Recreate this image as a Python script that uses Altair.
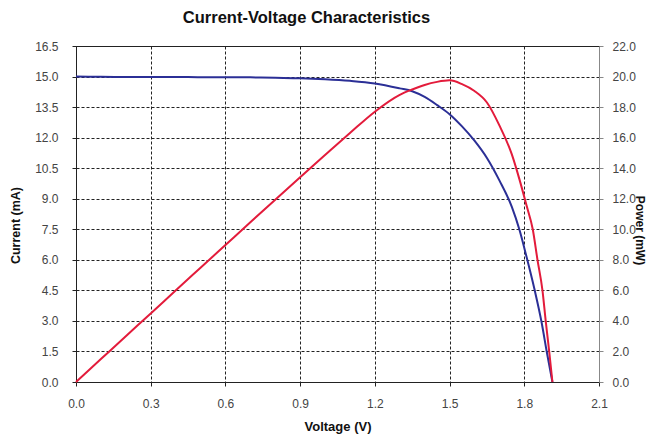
import altair as alt
import pandas as pd

# Current curve (blue)
voltage_i = [0.0, 0.1, 0.2, 0.3, 0.4, 0.5, 0.6, 0.7, 0.8, 0.9, 1.0, 1.1, 1.2,
             1.3, 1.35, 1.4, 1.45, 1.5, 1.55, 1.6, 1.65, 1.7, 1.75, 1.78,
             1.81, 1.84, 1.87, 1.89, 1.913]
current = [15.0, 14.99, 14.98, 14.98, 14.98, 14.97, 14.97, 14.96, 14.94, 14.92,
           14.87, 14.79, 14.66, 14.42, 14.28, 14.0, 13.6, 13.15, 12.55, 11.85,
           11.0, 9.9, 8.6, 7.5, 6.1, 4.6, 2.9, 1.5, 0.0]

# Power curve (red)
voltage_p = [0.0, 0.1, 0.2, 0.3, 0.4, 0.5, 0.6, 0.7, 0.8, 0.9, 1.0, 1.1, 1.2,
             1.3, 1.35, 1.4, 1.45, 1.5, 1.55, 1.6, 1.65, 1.7, 1.75, 1.78,
             1.81, 1.834, 1.853, 1.873, 1.886, 1.9, 1.913]
power = [0.0, 1.5, 3.0, 4.49, 5.99, 7.48, 8.97, 10.46, 11.94, 13.41, 14.86,
         16.3, 17.7, 18.8, 19.15, 19.45, 19.65, 19.75, 19.5, 19.05, 18.3, 16.8,
         14.9, 13.3, 11.5, 10.0, 8.0, 6.0, 4.0, 2.0, 0.0]

x_ticks = [0.0, 0.3, 0.6, 0.9, 1.2, 1.5, 1.8, 2.1]
i_ticks = [0.0, 1.5, 3.0, 4.5, 6.0, 7.5, 9.0, 10.5, 12.0, 13.5, 15.0, 16.5]
p_ticks = [0.0, 2.0, 4.0, 6.0, 8.0, 10.0, 12.0, 14.0, 16.0, 18.0, 20.0, 22.0]

df_i = pd.DataFrame({"Voltage": voltage_i, "Current": current})
df_p = pd.DataFrame({"Voltage": voltage_p, "Power": power})

FONT = "Liberation Sans"

x_enc = alt.X(
    "Voltage:Q",
    scale=alt.Scale(domain=[0, 2.1], nice=False, zero=True),
    axis=alt.Axis(
        title="Voltage (V)", values=x_ticks, format=".1f",
        grid=True, gridColor="#222", gridDash=[3, 2], gridWidth=1,
        domainColor="#222", tickColor="#222", tickSize=4,
        labelPadding=12, titlePadding=11, titleFontSize=13, labelFlush=False,
    ),
)

line_i = alt.Chart(df_i).mark_line(
    color="#2B2F96", strokeWidth=2, interpolate="monotone"
).encode(
    x=x_enc,
    y=alt.Y(
        "Current:Q",
        scale=alt.Scale(domain=[0, 16.5], nice=False, zero=True),
        axis=alt.Axis(
            title="Current (mA)", orient="left", values=i_ticks, format=".1f",
            grid=True, gridColor="#222", gridDash=[3, 2], gridWidth=1,
            domainColor="#222", tickColor="#222", tickSize=4,
            labelPadding=14, labelFlush=False,
            titleX=-61, titleY=179, titleAngle=270, titleBaseline="middle",
        ),
    ),
)

line_p = alt.Chart(df_p).mark_line(
    color="#E31B3B", strokeWidth=2, interpolate="monotone"
).encode(
    x=x_enc,
    y=alt.Y(
        "Power:Q",
        scale=alt.Scale(domain=[0, 22], nice=False, zero=True),
        axis=alt.Axis(
            title="Power (mW)", orient="right", values=p_ticks, format=".1f",
            grid=False, domainColor="#888", tickColor="#888", tickSize=4,
            labelPadding=9, labelFlush=False, titleFontSize=12,
            titleX=40.5, titleY=184, titleAngle=90, titleBaseline="middle",
        ),
    ),
)

chart = alt.layer(line_i, line_p).resolve_scale(y="independent").properties(
    width=523,
    height=336,
    autosize=alt.AutoSizeParams(type="none"),
    padding={"left": 68, "top": 38, "right": 48, "bottom": 54},
    title=alt.TitleParams(
        "Current-Voltage Characteristics", font=FONT, fontSize=16.5,
        fontWeight="bold", color="#111", anchor="middle", dx=-31, offset=14,
    ),
).configure_view(
    stroke="#222", strokeWidth=1
).configure_axis(
    labelFont=FONT, labelFontSize=12, labelColor="#444",
    titleFont=FONT, titleFontSize=12.5, titleFontWeight="bold", titleColor="#111",
)

chart.save("out.html", embed_options={"renderer": "svg", "actions": False})
